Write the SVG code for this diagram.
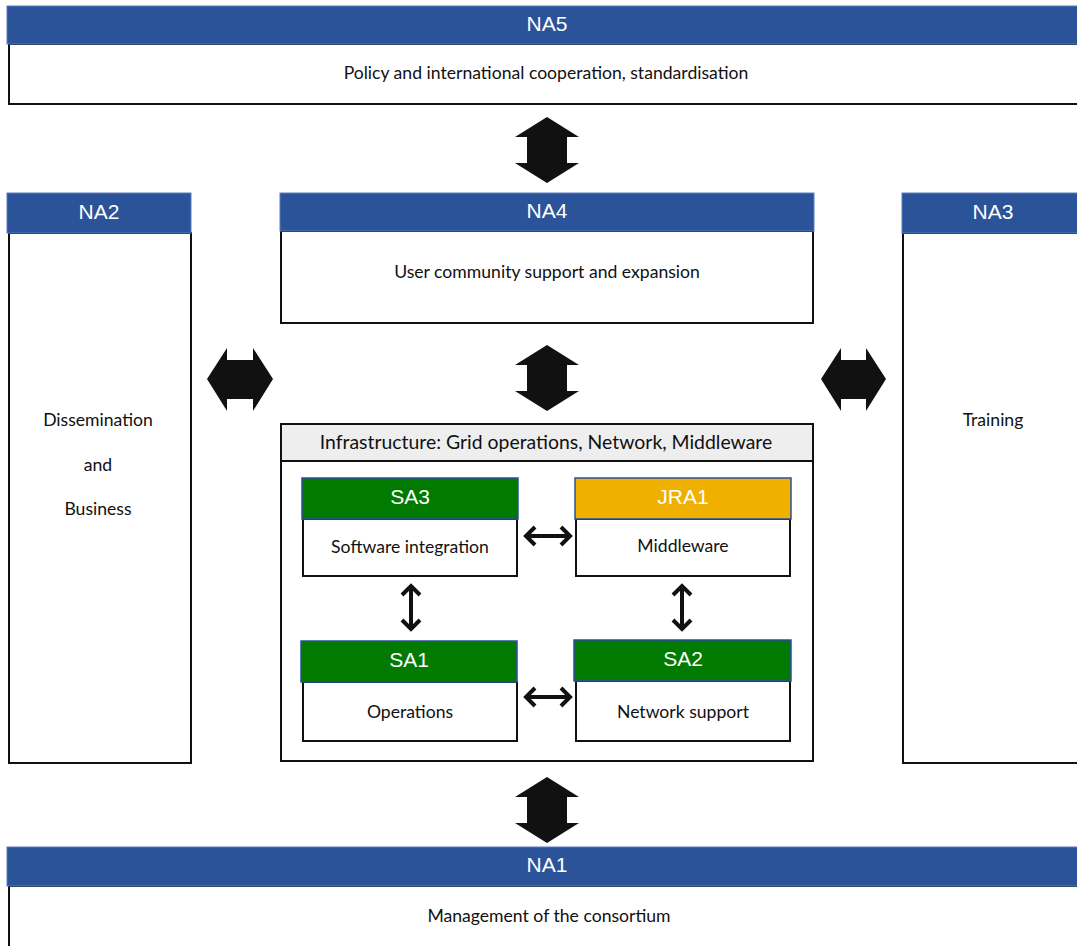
<svg xmlns="http://www.w3.org/2000/svg" width="1077" height="946" viewBox="0 0 1077 946">
<style>
.hdr{fill:#2b5399;stroke:#5b7cc0;stroke-width:1}
.body{fill:#fff;stroke:#111;stroke-width:2}
.ht{font-family:"Liberation Sans",Arial,sans-serif;font-size:21px;fill:#fff;text-anchor:middle}
.bt{font-family:Lato,"Open Sans",sans-serif;font-size:17.6px;fill:#111;text-anchor:middle}
.green{fill:#007a00;stroke:#2b4fa0;stroke-width:1.5}
.orange{fill:#f0b000;stroke:#2b4fa0;stroke-width:1.5}
.big{fill:#111}
.thin{fill:none;stroke:#111;stroke-width:4;stroke-linejoin:miter}
</style>
<rect width="1077" height="946" fill="#fff"/>
<g id="NA5">
<rect class="body" x="9" y="44" width="1080" height="60"/>
<rect class="hdr" x="7" y="6" width="1080" height="38"/>
<text class="ht" x="547" y="31">NA5</text>
<text class="bt" x="546" y="79">Policy and international cooperation, standardisation</text>
</g>
<g id="NA2">
<rect class="body" x="9" y="233" width="182" height="530"/>
<rect class="hdr" x="7" y="193" width="184" height="40"/>
<text class="ht" x="99" y="219">NA2</text>
<text class="bt" x="98" y="426">Dissemination</text>
<text class="bt" x="98" y="471">and</text>
<text class="bt" x="98" y="515">Business</text>
</g>
<g id="NA4">
<rect class="body" x="281" y="231" width="532" height="92"/>
<rect class="hdr" x="280" y="193" width="534" height="38"/>
<text class="ht" x="547" y="218">NA4</text>
<text class="bt" x="547" y="278">User community support and expansion</text>
</g>
<g id="NA3">
<rect class="body" x="903" y="233" width="190" height="530"/>
<rect class="hdr" x="902" y="193" width="190" height="40"/>
<text class="ht" x="993" y="219">NA3</text>
<text class="bt" x="993" y="426">Training</text>
</g>
<g id="Infrastructure">
<rect class="body" x="281" y="424" width="532" height="337"/>
<rect x="281" y="424" width="532" height="37" fill="#eeeeee" stroke="#111" stroke-width="2"/>
<text x="546" y="449" font-family="Lato,'Open Sans',sans-serif" font-size="19.4" fill="#111" text-anchor="middle">Infrastructure: Grid operations, Network, Middleware</text>
</g>
<g id="SA3">
<rect class="body" x="303" y="519" width="214" height="57"/>
<rect class="green" x="302" y="478" width="216" height="41"/>
<text class="ht" x="410" y="504">SA3</text>
<text class="bt" x="410" y="553">Software integration</text>
</g>
<g id="JRA1">
<rect class="body" x="576" y="519" width="214" height="57"/>
<rect class="orange" x="575" y="478" width="216" height="41"/>
<text class="ht" x="683" y="504">JRA1</text>
<text class="bt" x="683" y="552">Middleware</text>
</g>
<g id="SA1">
<rect class="body" x="303" y="682" width="214" height="59"/>
<rect class="green" x="301" y="641" width="216" height="41"/>
<text class="ht" x="409" y="667">SA1</text>
<text class="bt" x="410" y="718">Operations</text>
</g>
<g id="SA2">
<rect class="body" x="576" y="681" width="214" height="60"/>
<rect class="green" x="574" y="640" width="217" height="41"/>
<text class="ht" x="683" y="666">SA2</text>
<text class="bt" x="683" y="718">Network support</text>
</g>
<g id="NA1">
<rect class="body" x="9" y="886" width="1080" height="80"/>
<rect class="hdr" x="7" y="847" width="1080" height="39"/>
<text class="ht" x="547" y="872">NA1</text>
<text class="bt" x="549" y="922">Management of the consortium</text>
</g>
<g id="connectors">
<polygon class="big" points="547,117 579,137 567,137 567,163 579,163 547,183 515,163 527,163 527,137 515,137"/>
<polygon class="big" points="547,345 579,365 567,365 567,391 579,391 547,411 515,391 527,391 527,365 515,365"/>
<polygon class="big" points="547,777 579,797 567,797 567,823 579,823 547,843 515,823 527,823 527,797 515,797"/>
<polygon class="big" points="207,379 227,348 227,360 253,360 253,348 273,379 253,411 253,399 227,399 227,411"/>
<polygon class="big" points="821,379 841,348 841,360 866,360 866,348 886,379 866,411 866,399 841,399 841,411"/>
<g class="thin">
<path d="M527,536 H569 M535,527 L526,536 L535,545 M561,527 L570,536 L561,545"/>
<path d="M527,697 H569 M535,688 L526,697 L535,706 M561,688 L570,697 L561,706"/>
<path d="M411,587 V628 M402,595 L411,586 L420,595 M402,620 L411,629 L420,620"/>
<path d="M682,587 V628 M673,595 L682,586 L691,595 M673,620 L682,629 L691,620"/>
</g>
</g>
</svg>
